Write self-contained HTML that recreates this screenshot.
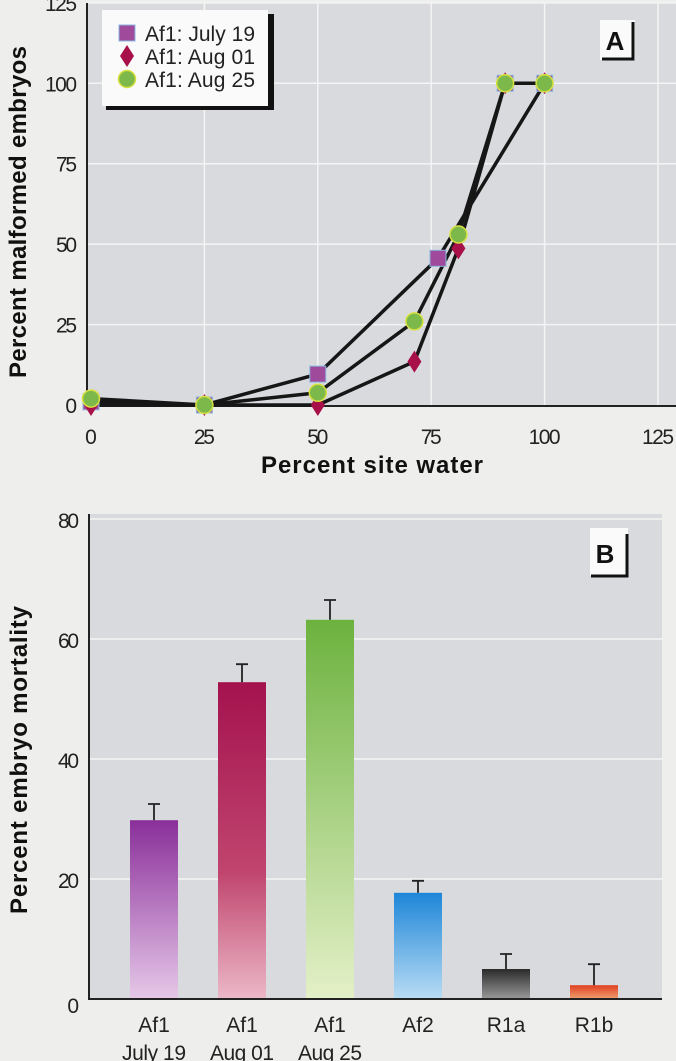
<!DOCTYPE html>
<html><head><meta charset="utf-8"><style>
body{margin:0;background:#eeeeec;}
svg{display:block;font-family:"Liberation Sans",sans-serif;}
</style></head><body>
<svg width="676" height="1061" viewBox="0 0 676 1061">
<defs>
<linearGradient id="g0" x1="0" y1="0" x2="0" y2="1"><stop offset="0" stop-color="#8a2f9a"/><stop offset="1" stop-color="#e6c8e8"/></linearGradient>
<linearGradient id="g1" x1="0" y1="0" x2="0" y2="1"><stop offset="0" stop-color="#a4124e"/><stop offset="0.6" stop-color="#c0456e"/><stop offset="1" stop-color="#ecb8c8"/></linearGradient>
<linearGradient id="g2" x1="0" y1="0" x2="0" y2="1"><stop offset="0" stop-color="#6cb23e"/><stop offset="1" stop-color="#e4f0c8"/></linearGradient>
<linearGradient id="g3" x1="0" y1="0" x2="0" y2="1"><stop offset="0" stop-color="#1e86d8"/><stop offset="1" stop-color="#b8dcf4"/></linearGradient>
<linearGradient id="g4" x1="0" y1="0" x2="0" y2="1"><stop offset="0" stop-color="#2a2a2a"/><stop offset="1" stop-color="#9a9a9a"/></linearGradient>
<linearGradient id="g5" x1="0" y1="0" x2="0" y2="1"><stop offset="0" stop-color="#e04020"/><stop offset="1" stop-color="#f0a070"/></linearGradient>
</defs>
<g id="chartA"></g>
<g id="chartB"></g>
</svg>
<script>
const NS="http://www.w3.org/2000/svg";
// Chart A data
const aXTicks=[0,25,50,75,100,125];
const aYTicks=[0,25,50,75,100,125];
const julyX=[0,25,50,76.5,100];
const julyY=[1,0,9.6,45.6,100];
const julyMarkX=[0,25,50,76.5,91.3,100];
const julyMarkY=[1,0,9.6,45.6,100,100];
const aug01X=[0,25,50,71.3,81,91.3,100];
const aug01Y=[0,0,0,13.5,48.7,100,100];
const aug25X=[0,25,50,71.3,81,91.3,100];
const aug25Y=[2,0,3.8,26,53,100,100];
// Chart B data
const bCats=[["Af1","July 19"],["Af1","Aug 01"],["Af1","Aug 25"],["Af2",""],["R1a",""],["R1b",""]];
const bVals=[29.8,52.8,63.2,17.7,5.0,2.3];
const bErr=[2.7,3.0,3.3,2.0,2.5,3.5];
const bYTicks=[0,20,40,60,80];

function el(p,t,a,txt){const e=document.createElementNS(NS,t);for(const k in a)e.setAttribute(k,a[k]);if(txt!==undefined)e.textContent=txt;p.appendChild(e);return e;}

// ---- Chart A
const A=document.getElementById('chartA');
const ax=v=>91+v*4.536, ay=v=>405-v*3.217;
let r=el(A,'rect',{x:87,y:3,width:589,height:403,fill:'#d8dadd'});

aYTicks.forEach(t=>{if(t>0){const l=el(A,'line',{x1:87,x2:676,y1:ay(t),y2:ay(t),stroke:'#f4f4f4','stroke-width':1.5});}
 const tx=el(A,'text',{x:77,y:ay(t)+8,'text-anchor':'end','font-size':21,fill:'#222',textLength:t>=100?32:(t>0?21:11)},String(t));});
aXTicks.forEach(t=>{if(t>0){const l=el(A,'line',{x1:ax(t),x2:ax(t),y1:3,y2:406,stroke:'#f4f4f4','stroke-width':1.5});}
 const tx=el(A,'text',{x:ax(t),y:444,'text-anchor':'middle','font-size':21,fill:'#222',textLength:t>=100?32:(t>0?21:11)},String(t));});
let l=el(A,'line',{x1:87,x2:87,y1:3,y2:407,stroke:'#222','stroke-width':2});
l=el(A,'line',{x1:86,x2:676,y1:406,y2:406,stroke:'#222','stroke-width':2});
function line(xs,ys,name){const pts=xs.map((x,i)=>ax(x)+','+ay(ys[i])).join(' ');const p=el(A,'polyline',{points:pts,fill:'none',stroke:'#161616','stroke-width':3.5,'stroke-linejoin':'round'});}
line(julyX,julyY,'line-july-19');line(aug01X,aug01Y,'line-aug-01');line(aug25X,aug25Y,'line-aug-25');
function sq(g,x,y){return el(g,'rect',{x:x-8,y:y-8,width:16,height:16,fill:'#a04a9c',stroke:'#8ab8e0','stroke-width':1});}
function dm(g,x,y){return el(g,'polygon',{points:`${x},${y-11} ${x+7},${y} ${x},${y+11} ${x-7},${y}`,fill:'#a8104a'});}
function ci(g,x,y){return el(g,'circle',{cx:x,cy:y,r:8.5,fill:'#7cb84a',stroke:'#d8e040','stroke-width':1.5});}
julyMarkX.forEach((x,i)=>{const m=sq(A,ax(x),ay(julyMarkY[i]));});
aug01X.forEach((x,i)=>{const m=dm(A,ax(x),ay(aug01Y[i]));});
aug25X.forEach((x,i)=>{const m=ci(A,ax(x),ay(aug25Y[i]));});
// legend
const L=el(A,'g',{});
el(L,'rect',{x:106,y:14,width:168,height:96,fill:'#111'});
el(L,'rect',{x:102,y:10,width:166,height:96,fill:'#fafafa'});
const names=['Af1: July 19','Af1: Aug 01','Af1: Aug 25'];
names.forEach((n,i)=>{const y=33+i*23;const g=el(L,'g',{});
 if(i==0)sq(g,127,y);if(i==1)dm(g,127,y);if(i==2)ci(g,127,y);
 el(g,'text',{x:145,y:y+8,'font-size':21,fill:'#222',textLength:110},n);});
const PA=el(A,'g',{});
el(PA,'rect',{x:600,y:20,width:35,height:40,fill:'#fafafa'});
el(PA,'polyline',{points:'633,22 633,59 602,59',fill:'none',stroke:'#111','stroke-width':3});
el(PA,'text',{x:615,y:50,'text-anchor':'middle','font-size':26,'font-weight':'bold',fill:'#111'},'A');
let t=el(A,'text',{x:372,y:473,'text-anchor':'middle','font-size':24,'font-weight':'bold',fill:'#111',textLength:222},'Percent site water');
t=el(A,'text',{x:0,y:0,'text-anchor':'middle','font-size':24,'font-weight':'bold',fill:'#111',textLength:332,transform:'translate(26,212) rotate(-90)'},'Percent malformed embryos');

// ---- Chart B
const B=document.getElementById('chartB');
const by=v=>999-v*6.0;
const bx=i=>154+88*i, bw=48;
r=el(B,'rect',{x:89,y:514,width:573,height:486,fill:'#d8dadd'});
bYTicks.forEach(tk=>{if(tk>0){const g=el(B,'line',{x1:89,x2:662,y1:by(tk),y2:by(tk),stroke:'#f4f4f4','stroke-width':1.5});}
 const tx=el(B,'text',{x:79,y:by(tk)+(tk==0?14:9),'text-anchor':'end','font-size':21,fill:'#222',textLength:tk>0?21:11},String(tk));});
bVals.forEach((v,i)=>{const cx=bx(i);
 const b=el(B,'rect',{x:cx-bw/2,y:by(v),width:bw,height:999-by(v),fill:`url(#g${i})`});
 const e=el(B,'path',{d:`M${cx},${by(v)} V${by(v+bErr[i])} M${cx-6},${by(v+bErr[i])} H${cx+6}`,stroke:'#222','stroke-width':1.8,fill:'none'});
 const t1=el(B,'text',{x:cx,y:1032,'text-anchor':'middle','font-size':21,fill:'#222'},bCats[i][0]);
 if(bCats[i][1]){const t2=el(B,'text',{x:cx,y:1060,'text-anchor':'middle','font-size':21,fill:'#222',textLength:64},bCats[i][1]);}
});
l=el(B,'line',{x1:89,x2:89,y1:514,y2:1000,stroke:'#222','stroke-width':2});
l=el(B,'line',{x1:88,x2:662,y1:999,y2:999,stroke:'#222','stroke-width':2});
const PB=el(B,'g',{});
el(PB,'rect',{x:590,y:528,width:38,height:48,fill:'#fafafa'});
el(PB,'polyline',{points:'627,534 627,576 591,576',fill:'none',stroke:'#111','stroke-width':3});
el(PB,'text',{x:605,y:563,'text-anchor':'middle','font-size':26,'font-weight':'bold',fill:'#111'},'B');
t=el(B,'text',{x:0,y:0,'text-anchor':'middle','font-size':24,'font-weight':'bold',fill:'#111',textLength:308,transform:'translate(27,760) rotate(-90)'},'Percent embryo mortality');
</script>
</body></html>
